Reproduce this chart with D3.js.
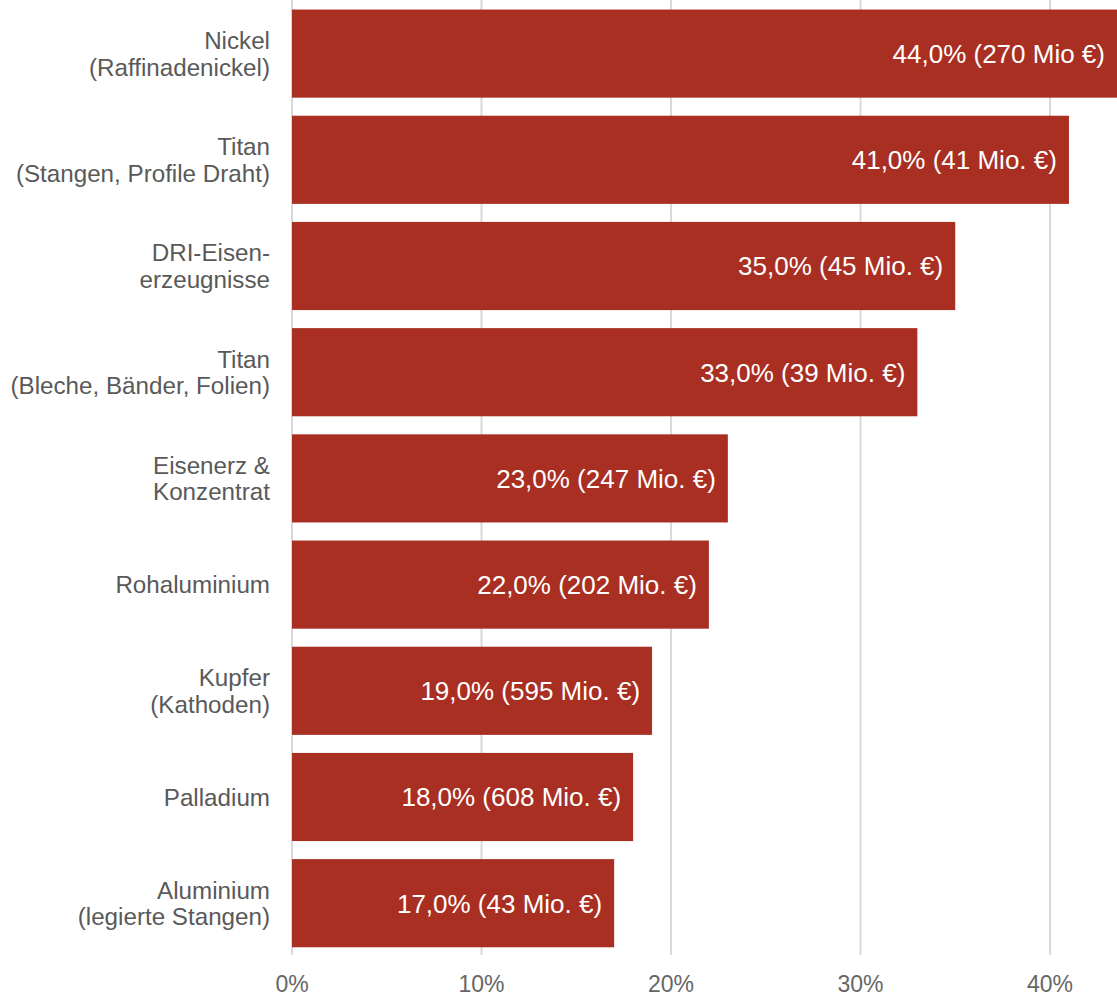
<!DOCTYPE html>
<html>
<head>
<meta charset="utf-8">
<script src="https://cdn.jsdelivr.net/npm/d3@7"></script>
<style>
  html, body { margin: 0; padding: 0; background: #fff; }
  svg { display: block; font-family: "Liberation Sans", Arial, sans-serif; }
</style>
</head>
<body>
<svg id="chart" width="1117" height="998"></svg>
<script>
// Category labels (each entry holds the label lines)
const categories = [
  ["Nickel", "(Raffinadenickel)"],
  ["Titan", "(Stangen, Profile Draht)"],
  ["DRI-Eisen-", "erzeugnisse"],
  ["Titan", "(Bleche, Bänder, Folien)"],
  ["Eisenerz &", "Konzentrat"],
  ["Rohaluminium"],
  ["Kupfer", "(Kathoden)"],
  ["Palladium"],
  ["Aluminium", "(legierte Stangen)"]
];
// Share in percent
const shares = [44, 41, 35, 33, 23, 22, 19, 18, 17];
// Value in million euros and unit text as printed
const amounts = [270, 41, 45, 39, 247, 202, 595, 608, 43];
const units = ["Mio", "Mio.", "Mio.", "Mio.", "Mio.", "Mio.", "Mio.", "Mio.", "Mio."];
const tickValues = [0, 10, 20, 30, 40];

const svg = d3.select("#chart");
const W = 1117, H = 998;

const de = d3.formatLocale({ decimal: ",", thousands: ".", grouping: [3], currency: ["", " €"] });
const fmtShare = de.format(".1f");

const x = d3.scaleLinear().domain([0, 45]).range([292, 1144.75]);
const y = d3.scaleBand()
  .domain(d3.range(categories.length))
  .range([0.5, 956.3])
  .paddingInner(0.17)
  .paddingOuter(0.085);

// Vertical gridlines
svg.append("g")
  .selectAll("line")
  .data(tickValues)
  .join("line")
  .attr("x1", d => x(d)).attr("x2", d => x(d))
  .attr("y1", 0).attr("y2", 955)
  .attr("stroke", "#d9d9d9")
  .attr("stroke-width", 2);

// Tick labels
svg.append("g")
  .selectAll("text")
  .data(tickValues)
  .join("text")
  .attr("x", d => x(d))
  .attr("y", 992)
  .attr("text-anchor", "middle")
  .attr("fill", "#666")
  .attr("font-size", 23)
  .text(d => d + "%");

// Bars
svg.append("g")
  .selectAll("rect")
  .data(shares)
  .join("rect")
  .attr("x", x(0))
  .attr("y", (d, i) => y(i))
  .attr("width", d => x(d) - x(0))
  .attr("height", y.bandwidth())
  .attr("fill", "#a82f22");

// Value labels inside bars
svg.append("g")
  .selectAll("text")
  .data(shares)
  .join("text")
  .attr("x", d => Math.min(x(d), W) - 12)
  .attr("y", (d, i) => y(i) + y.bandwidth() / 2)
  .attr("dy", "0.36em")
  .attr("text-anchor", "end")
  .attr("fill", "#fff")
  .attr("font-size", 26)
  .text((d, i) => `${fmtShare(d)}% (${amounts[i]} ${units[i]} €)`);

// Category labels
const catG = svg.append("g")
  .selectAll("text")
  .data(categories)
  .join("text")
  .attr("text-anchor", "end")
  .attr("fill", "#595959")
  .attr("font-size", 24.2)
  .attr("y", (d, i) => y(i) + y.bandwidth() / 2);

const lineH = 26.5;
catG.each(function (lines) {
  const t = d3.select(this);
  const y0 = +t.attr("y");
  lines.forEach((ln, k) => {
    t.append("tspan")
      .attr("x", 270)
      .attr("y", y0 + (k - (lines.length - 1) / 2) * lineH)
      .attr("dy", "0.36em")
      .text(ln);
  });
});
</script>
</body>
</html>
